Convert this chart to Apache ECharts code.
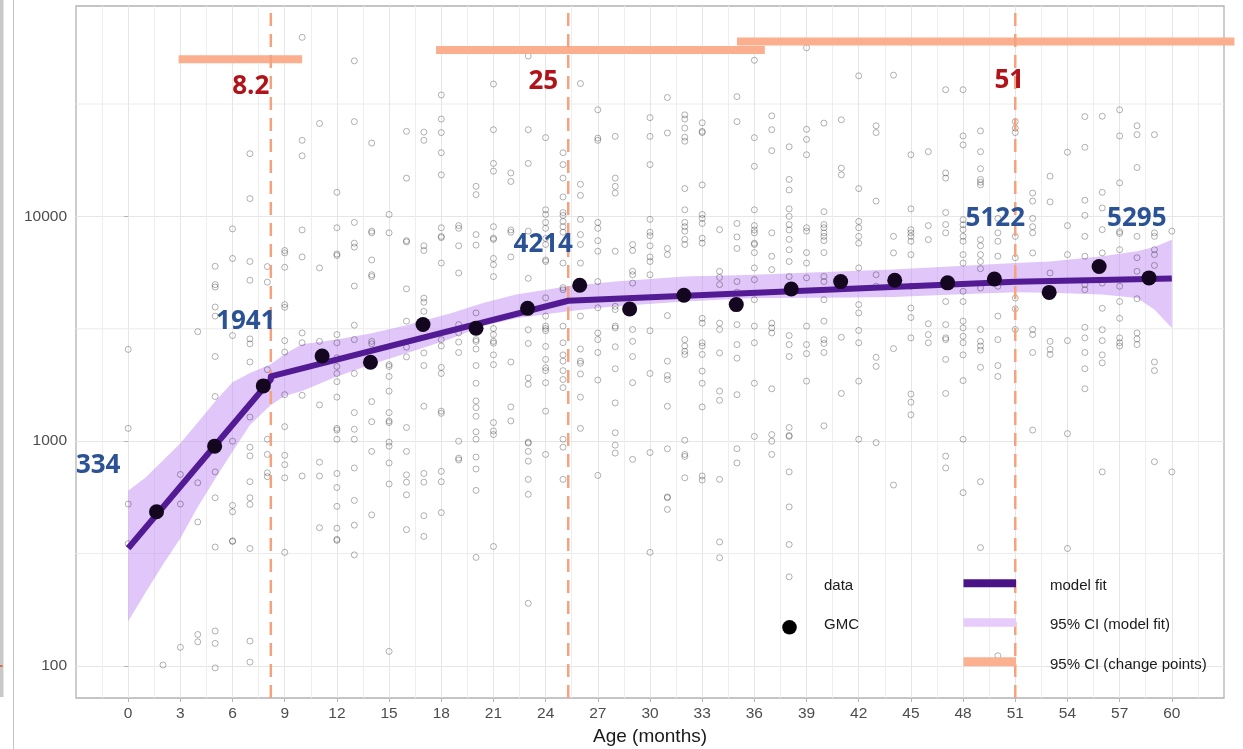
<!DOCTYPE html>
<html>
<head>
<meta charset="utf-8">
<script src="https://cdn.jsdelivr.net/npm/echarts@6.0.0/dist/echarts.min.js"></script>
<style>
  html, body { margin: 0; padding: 0; background: #ffffff; }
  #chart { width: 1243px; height: 749px; }
</style>
</head>
<body>
<div id="chart"></div>
<script>
// Individual antibody titers, grouped by age in whole months (index = month 0..60)
const titersByMonth = [
  [2560, 1140, 525, 350],
  [],
  [101],
  [711, 525, 121],
  [3070, 653, 437, 138, 128],
  [6000, 4970, 4850, 3950, 3600, 2380, 1580, 730, 560, 338, 143, 126, 98],
  [8800, 6500, 2950, 1000, 518, 485, 360, 358],
  [19000, 12000, 6300, 5200, 2850, 2710, 2250, 1280, 940, 860, 660, 560, 523, 333, 129, 104],
  [5980, 5100, 2080, 1020, 873, 723, 695],
  [7050, 6880, 5940, 4050, 3940, 2800, 2490, 1610, 1160, 865, 786, 687, 320],
  [62600, 21800, 18600, 8700, 6600, 3030, 2740, 1600, 700],
  [25900, 5900, 2780, 1450, 806, 700, 412],
  [12800, 8900, 6800, 6700, 2980, 2740, 2350, 2150, 2000, 1840, 1570, 1140, 1120, 1020, 718, 622, 513, 410, 366, 362],
  [49200, 26400, 9400, 7600, 7300, 4900, 3280, 2830, 2000, 1340, 1130, 1020, 760, 545, 423, 312],
  [21200, 8600, 8450, 6400, 5500, 5400, 2780, 2710, 1500, 1220, 900, 470],
  [10200, 8450, 2190, 2150, 1940, 1670, 1340, 1230, 1210, 990, 950, 800, 645, 116],
  [23900, 14800, 7800, 7700, 4760, 3420, 2620, 2370, 1150, 900, 708, 657, 577, 404],
  [23700, 21800, 7400, 7050, 4330, 4150, 3780, 2470, 2170, 1430, 718, 657, 466, 377],
  [34700, 27100, 23600, 19200, 15300, 8900, 8150, 8050, 6200, 2830, 2650, 2130, 2000, 1360, 1330, 734, 660, 481],
  [9100, 8850, 7400, 5600, 3300, 3030, 2760, 2480, 1000, 840, 825],
  [13600, 12500, 8300, 7450, 3720, 2830, 2780, 2570, 2170, 1810, 1510, 1410, 1290, 1100, 1020, 850, 752, 604, 304],
  [38800, 24300, 17200, 15900, 9000, 8000, 7900, 6500, 6100, 5400, 3170, 2980, 2780, 2730, 2420, 2190, 1210, 1110, 1070, 340],
  [15600, 14300, 8700, 8500, 6600, 2250, 1420, 1230],
  [51700, 24300, 17200, 8600, 5300, 3130, 2720, 1910, 1790, 990, 980, 900, 815, 676, 580, 190],
  [22400, 10700, 10200, 9400, 8850, 7980, 7500, 6400, 6300, 4340, 3600, 3250, 3170, 3100, 2640, 2310, 2120, 2060, 1820, 1360, 873],
  [19200, 17000, 14800, 12200, 10400, 10100, 9500, 9000, 8500, 6200, 4820, 4720, 3250, 2740, 2420, 2270, 2060, 1880, 1730, 1020, 940, 676],
  [39000, 13900, 12400, 9700, 8300, 7500, 6200, 3600, 2570, 2270, 2220, 1990, 1570, 1140],
  [29800, 22300, 21800, 9400, 8850, 7800, 7000, 5130, 3920, 3030, 2830, 2480, 1870, 704],
  [22700, 14800, 13600, 12700, 7000, 3980, 3850, 3250, 3190, 2630, 2100, 1480, 1090, 960, 885],
  [7500, 7050, 5700, 5500, 5050, 3140, 2780, 2380, 1820, 830],
  [27500, 22700, 17000, 9700, 8500, 8200, 7400, 6600, 6300, 5500, 3100, 2000, 890, 320],
  [33800, 23500, 7200, 6760, 3620, 2270, 1960, 1880, 1430, 925, 565, 560, 497],
  [28300, 27100, 24700, 22500, 21600, 13300, 10700, 9400, 9000, 8600, 7900, 7500, 2830, 2650, 2510, 2430, 1010, 873, 855, 687],
  [26100, 23900, 23600, 13800, 10200, 9800, 9300, 8000, 7600, 3520, 3350, 2740, 2650, 2430, 2050, 1810, 1420, 700, 671],
  [8730, 5700, 5350, 4970, 3350, 3140, 2470, 1670, 1520, 676, 356, 303],
  [34100, 26400, 9300, 8100, 7200, 5130, 4600, 4050, 3300, 2690, 2340, 1610, 925, 800],
  [49500, 22400, 16700, 10700, 9100, 8700, 8450, 7600, 7500, 6900, 5900, 5230, 4260, 3250, 2740, 1810, 1050],
  [28000, 24300, 19600, 8450, 6650, 5800, 3350, 3190, 3030, 1710, 1070, 1000, 873],
  [20400, 14600, 13100, 10800, 10000, 9200, 8700, 7900, 7100, 6300, 5400, 2950, 2690, 2380, 1150, 1060, 1050, 730, 510, 347, 249],
  [56200, 24400, 22000, 18800, 8900, 8600, 6900, 6200, 5330, 3250, 2690, 2450, 1850],
  [26000, 10500, 9200, 8900, 8450, 8150, 7800, 6900, 5400, 5130, 4260, 3420, 2830, 2720, 2480, 1170],
  [26900, 16400, 15300, 2900, 1630],
  [42200, 13300, 9500, 8900, 8150, 7600, 5900, 4050, 3720, 3110, 2740, 1850, 1020],
  [25300, 23600, 11700, 5500, 4890, 2360, 2150, 985],
  [42500, 8150, 6880, 2580, 638],
  [59700, 18800, 10800, 8730, 8450, 8150, 7750, 6760, 4890, 3910, 3550, 2880, 1620, 1490, 1310],
  [19400, 9100, 7880, 3330, 2980, 2740],
  [36600, 15600, 14800, 10400, 9200, 8450, 4180, 3300, 2880, 2830, 2310, 1630, 858, 760],
  [36600, 22800, 20800, 9670, 9180, 8730, 8150, 7750, 6760, 6200, 4640, 4180, 3420, 3190, 2930, 2740, 2420, 1860, 1020, 590],
  [24000, 19400, 16300, 14600, 14200, 13800, 7880, 7400, 6760, 6300, 5850, 4800, 3140, 2780, 2650, 2540, 2130, 660, 336],
  [9800, 8450, 7750, 6650, 4890, 3600, 2830, 2170, 1940, 111],
  [26400, 24700, 23600, 8150, 6550, 4330, 3880, 3140],
  [12700, 11700, 9800, 9000, 8450, 6880, 3140, 2980, 2480, 1120],
  [15100, 11600, 5600, 2780, 2560, 2430],
  [19300, 9100, 6760, 2800, 1080, 333],
  [27800, 20300, 11800, 10100, 8150, 6650, 4970, 4720, 3210, 2880, 2480, 2100, 1710],
  [27900, 12800, 10900, 8730, 6880, 5050, 3900, 3130, 2800, 2420, 2230, 730],
  [29800, 22800, 14100, 8550, 8400, 7110, 4890, 4180, 3520, 2880, 2740, 2650],
  [25300, 23100, 16500, 8150, 6550, 5700, 4300, 3030, 2850, 2690],
  [23100, 8450, 8150, 7110, 6760, 6050, 2250, 2060, 810],
  [8600, 730]
];

// Geometric mean concentration per age bin
const gmcAge = [1.63, 4.97, 7.77, 11.15, 13.93, 16.95, 20.0, 22.96, 25.96, 28.83, 31.95, 34.96, 38.12, 40.96, 44.07, 47.11, 49.8, 52.95, 55.82, 58.69];
const gmcValue = [485, 950, 1761, 2393, 2245, 3303, 3177, 3899, 4936, 3874, 4457, 4050, 4755, 5127, 5197, 5063, 5268, 4590, 5987, 5326];

// Piecewise model fit (knots at the change points)
const fitAge = [0, 8.2, 8.2, 25.3, 51, 60];
const fitValue = [334, 1880, 1941, 4214, 5122, 5295];
const annotatedKnots = [0, 2, 3, 4, 5];

// 95% CI band around the model fit
const ciAge   = [0, 1, 2, 3, 4, 5, 6, 7, 8.2, 9, 10, 12, 14, 16, 18.5, 20.4, 22.3, 25.3, 28, 32, 36, 40, 44, 47.5, 51, 53, 56, 58, 59, 60];
const ciUpper = [601, 690, 820, 980, 1210, 1500, 1830, 2010, 2200, 2440, 2700, 2830, 3020, 3280, 3700, 4120, 4490, 4890, 5130, 5400, 5500, 5650, 5800, 6000, 6200, 6300, 6650, 7000, 7300, 7880];
const ciLower = [158, 212, 283, 370, 510, 680, 900, 1180, 1450, 1590, 1670, 1940, 2200, 2460, 2850, 3250, 3520, 3780, 3980, 4180, 4330, 4350, 4380, 4490, 4600, 4570, 4490, 4330, 3850, 3190];

// Change points and their 95% CIs
const changePoints = [8.2, 25.3, 51];
const changeCiLow  = [2.9, 17.7, 35.0];
const changeCiHigh = [10.0, 36.6, 63.6];
const changeCiLevel = [50000, 55000, 60000];

// Axis ticks
const xTicks = [0, 3, 6, 9, 12, 15, 18, 21, 24, 27, 30, 33, 36, 39, 42, 45, 48, 51, 54, 57, 60];
const yTicks = [100, 1000, 10000];
const yMinorBreaks = [316.23, 3162.3, 31622.8];

// ---- styling ----
const Y_MIN = 72, Y_MAX = 86300;
const tickFont = '"Liberation Sans", Arial, sans-serif';
const annotFont = '"Open Sans", "Noto Sans", sans-serif';
const fitColor = '#521b93';
const cpColor = '#f5a27f';
const cpBarColor = '#fcaf8e';
const blueText = '#2a5294';
const redText = '#b0141a';

const knotLabelOffsets = [[-30, -83], [-25, -55], [-25, -56], [-20, -63], [-35, -60]];
const cpLabelOffsets = [[-20, 6], [-25, 1], [-6, 0]];

const scatterData = [];
titersByMonth.forEach(function (vals, m) {
  vals.forEach(function (v) { scatterData.push([m, v]); });
});

const series = [];

// half-decade horizontal grid lines
yMinorBreaks.forEach(function (b) {
  series.push({
    type: 'line', silent: true, symbol: 'none', z: 1,
    data: [[-3, b], [63, b]],
    lineStyle: { color: '#ececec', width: 1 }
  });
});

// CI ribbon of the model fit
series.push({
  type: 'custom', silent: true, z: 2,
  data: [[0, 1000]],
  renderItem: function (params, api) {
    const pts = [];
    for (let i = 0; i < ciAge.length; i++) pts.push(api.coord([ciAge[i], ciUpper[i]]));
    for (let i = ciAge.length - 1; i >= 0; i--) pts.push(api.coord([ciAge[i], ciLower[i]]));
    return { type: 'polygon', shape: { points: pts }, style: { fill: 'rgba(190,135,242,0.48)' } };
  }
});

// raw data points
series.push({
  type: 'scatter', silent: true, z: 3,
  symbol: 'circle', symbolSize: 6,
  data: scatterData,
  itemStyle: { color: 'rgba(255,255,255,0)', borderColor: 'rgba(0,0,0,0.3)', borderWidth: 1, opacity: 1 }
});

// change point dashed lines
changePoints.forEach(function (cp) {
  series.push({
    type: 'line', silent: true, symbol: 'none', z: 4,
    data: [[cp, Y_MIN], [cp, Y_MAX]],
    lineStyle: { color: cpColor, width: 2.5, type: [13, 8] }
  });
});

// change point CI bars (may run past the panel edge)
series.push({
  type: 'custom', silent: true, z: 4, clip: false,
  data: changePoints.map(function (cp, i) { return [changeCiLow[i], changeCiHigh[i], changeCiLevel[i]]; }),
  renderItem: function (params, api) {
    const a = api.coord([api.value(0), api.value(2)]);
    const b = api.coord([api.value(1), api.value(2)]);
    return { type: 'rect', shape: { x: a[0], y: a[1] - 4, width: b[0] - a[0], height: 8 }, style: { fill: cpBarColor } };
  }
});

// model fit line
series.push({
  type: 'line', silent: true, symbol: 'none', z: 5,
  data: fitAge.map(function (a, i) { return [a, fitValue[i]]; }),
  lineStyle: { color: fitColor, width: 6, join: 'round' }
});

// GMC points
series.push({
  type: 'scatter', silent: true, z: 6,
  symbol: 'circle', symbolSize: 15,
  data: gmcAge.map(function (a, i) { return [a, gmcValue[i]]; }),
  itemStyle: { color: '#14061f', opacity: 1 }
});

// fitted value annotations
series.push({
  type: 'scatter', silent: true, z: 7,
  symbolSize: 0,
  itemStyle: { color: 'rgba(0,0,0,0)', opacity: 1 },
  data: annotatedKnots.map(function (k, j) {
    return {
      value: [fitAge[k], fitValue[k]],
      label: { offset: knotLabelOffsets[j] }
    };
  }),
  label: {
    show: true, position: 'inside', opacity: 1,
    formatter: function (p) { return String(Math.round(p.value[1])); },
    color: blueText, fontFamily: annotFont, fontWeight: 700, fontSize: 26
  }
});

// change point annotations
series.push({
  type: 'scatter', silent: true, z: 7,
  symbolSize: 0,
  itemStyle: { color: 'rgba(0,0,0,0)', opacity: 1 },
  data: changePoints.map(function (cp, i) {
    return { value: [cp, 40000], label: { offset: cpLabelOffsets[i] } };
  }),
  label: {
    show: true, position: 'inside', opacity: 1,
    formatter: function (p) {
      const v = p.value[0];
      return v < 10 ? v.toFixed(1) : String(Math.round(v));
    },
    color: redText, fontFamily: annotFont, fontWeight: 700, fontSize: 26
  }
});

const legendText = { fill: '#1a1a1a', font: '15px "Liberation Sans", Arial, sans-serif', verticalAlign: 'middle' };
function txt(x, y, s) {
  return { type: 'text', x: x, y: y, style: Object.assign({ text: s }, legendText), z: 20 };
}

const option = {
  animation: false,
  backgroundColor: '#ffffff',
  grid: {
    left: 76, top: 6, width: 1148, height: 692,
    containLabel: false, outerBoundsMode: 'none',
    show: true, borderColor: '#b3b3b3', borderWidth: 1.3, backgroundColor: 'rgba(0,0,0,0)'
  },
  xAxis: {
    type: 'value', min: -3, max: 63, interval: 3,
    name: 'Age (months)', nameLocation: 'middle', nameGap: 28,
    nameTextStyle: { color: '#1a1a1a', fontSize: 19, fontFamily: tickFont },
    axisLine: { show: false },
    axisTick: { show: true, length: 4, customValues: xTicks, lineStyle: { color: '#b3b3b3', width: 1 } },
    axisLabel: { customValues: xTicks, color: '#4d4d4d', fontSize: 15.5, fontFamily: tickFont, margin: 8 },
    splitLine: { show: true, lineStyle: { color: '#e6e6e6', width: 1 } },
    minorTick: { show: false, splitNumber: 2 },
    minorSplitLine: { show: true, lineStyle: { color: '#eeeeee', width: 1 } }
  },
  yAxis: {
    type: 'log', logBase: 10, min: Y_MIN, max: Y_MAX,
    axisLine: { show: false },
    axisTick: { show: true, length: 4, customValues: yTicks, lineStyle: { color: '#b3b3b3', width: 1 } },
    axisLabel: {
      customValues: yTicks, color: '#4d4d4d', fontSize: 15.5, fontFamily: tickFont, margin: 9,
      formatter: function (v) { return String(Math.round(v)); }
    },
    splitLine: { show: true, lineStyle: { color: '#e6e6e6', width: 1 } }
  },
  series: series,
  graphic: [
    // page edge strips
    { type: 'rect', shape: { x: 0, y: 0, width: 3.5, height: 697 }, style: { fill: '#c9c9c9' }, z: 20 },
    { type: 'rect', shape: { x: 0, y: 665, width: 2.5, height: 2 }, style: { fill: '#e06a4a' }, z: 21 },
    { type: 'line', shape: { x1: 13.5, y1: 0, x2: 13.5, y2: 749 }, style: { stroke: '#c4c4c4', lineWidth: 1 }, z: 20 },
    // legend
    txt(824, 586, 'data'),
    { type: 'circle', shape: { cx: 789.5, cy: 627.3, r: 7.3 }, style: { fill: '#000000' }, z: 20 },
    txt(824, 625, 'GMC'),
    { type: 'rect', shape: { x: 963.5, y: 579.3, width: 52.5, height: 8 }, style: { fill: '#4a1486' }, z: 20 },
    txt(1050, 586, 'model fit'),
    { type: 'rect', shape: { x: 963.5, y: 618.3, width: 52.5, height: 8.4 }, style: { fill: '#e7cbfa' }, z: 20 },
    txt(1050, 625, '95% CI (model fit)'),
    { type: 'rect', shape: { x: 963.5, y: 657.3, width: 52.5, height: 9 }, style: { fill: '#fbb08f' }, z: 20 },
    txt(1050, 665, '95% CI (change points)')
  ]
};

const chart = echarts.init(document.getElementById('chart'), null, { renderer: 'canvas' });
chart.setOption(option);
</script>
</body>
</html>
